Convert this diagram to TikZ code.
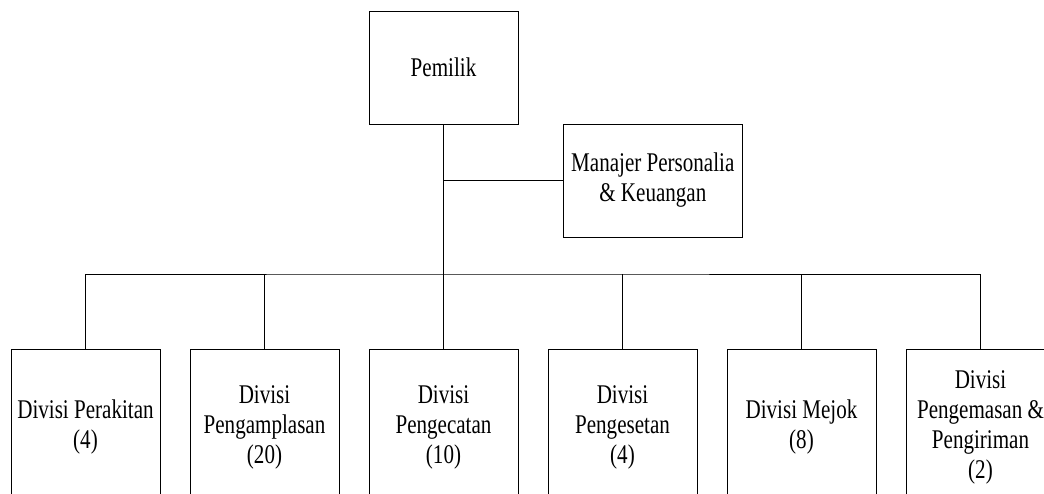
\documentclass[tikz,border=0pt]{standalone}
\usepackage{fontspec}
\setmainfont[FakeStretch=0.78]{Liberation Serif}
\begin{document}
\begin{tikzpicture}[x=1pt,y=1pt,line width=.8pt,font=\fontsize{27}{30}\selectfont,
	kotak/.style={draw,align=center,inner sep=1pt,minimum width=149,minimum height=113},
	divisi/.style={kotak,minimum height=156}]
	\useasboundingbox (0,0) rectangle (1044,-493);
	\clip (0,0) rectangle (1044,-493);
	\node[kotak] (pemilik) at (443.5,-67.5) {Pemilik};
	\node[kotak,minimum width=179] (manajer) at (652.8,-180.5) {Manajer Personalia\\\& Keuangan};
	\coordinate (bus) at (443.5,-274);
	\node[divisi] (div1) at (85.5,-427) {Divisi Perakitan\\(4)};
	\node[divisi] (div2) at (264.5,-427) {Divisi\\Pengamplasan\\(20)};
	\node[divisi] (div3) at (443.5,-427) {Divisi\\Pengecatan\\(10)};
	\node[divisi] (div4) at (622.5,-427) {Divisi\\Pengesetan\\(4)};
	\node[divisi] (div5) at (801.5,-427) {Divisi Mejok\\(8)};
	\node[divisi] (div6) at (980.5,-427) {Divisi\\Pengemasan \&\\Pengiriman\\(2)};
	\draw (pemilik.south)--(div3.north) (manajer.west)--(manajer.west-|pemilik.south);
	\draw (div1.north)|-(bus)-|(div6.north);
	\draw (div2.north)--(div2.north|-bus) (div4.north)--(div4.north|-bus) (div5.north)--(div5.north|-bus);
\end{tikzpicture}
\end{document}
